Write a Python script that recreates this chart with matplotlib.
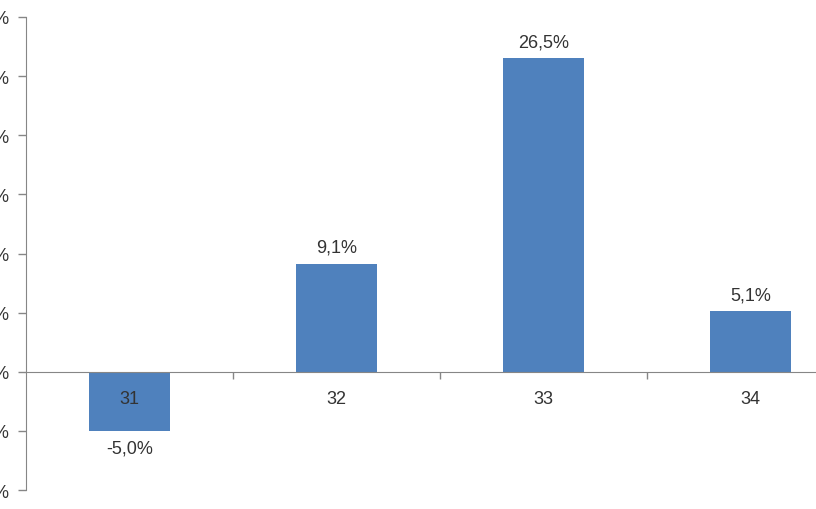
import numpy as np
import matplotlib
matplotlib.use("Agg")
import matplotlib.pyplot as plt

plt.rcParams['font.family'] = ['Liberation Sans', 'DejaVu Sans']

categories = ['31', '32', '33', '34']
values = [-5.0, 9.1, 26.5, 5.1]
yticks = [-10, -5, 0, 5, 10, 15, 20, 25, 30]

bar_color = '#4F81BD'
text_color = '#333333'
axis_color = '#868686'

fig = plt.figure(figsize=(8.16, 5.1), dpi=100)
# axes run a little past the right edge, as in the cropped original
ax = fig.add_axes([26 / 816, 19 / 510, 828 / 816, 473 / 510])

x = np.arange(len(categories))
ax.bar(x, values, width=0.39, color=bar_color, zorder=2)

ax.set_xlim(-0.5, len(categories) - 0.5)
ax.set_ylim(-10, 30)

for sp in ['top', 'right']:
    ax.spines[sp].set_visible(False)
ax.spines['left'].set_color(axis_color)
ax.spines['bottom'].set_color(axis_color)
ax.spines['bottom'].set_position(('data', 0))
ax.spines['bottom'].set_zorder(3)
ax.xaxis.set_zorder(4)

ax.set_yticks(yticks)
ax.set_yticklabels([f"{v}%" for v in yticks])
ax.tick_params(axis='y', colors=axis_color, length=6, width=1, pad=6,
               labelcolor=text_color, labelsize=13)

ax.set_xticks(x)
ax.set_xticklabels(categories)
ax.tick_params(axis='x', which='major', length=0, pad=13,
               labelcolor=text_color, labelsize=13)
ax.set_xticks(np.arange(0.5, len(categories) - 0.5), minor=True)
ax.tick_params(axis='x', which='minor', length=5, color=axis_color, width=1)

for xi, v in zip(x, values):
    s = f"{v:.1f}%".replace('.', ',')
    if v >= 0:
        ax.annotate(s, (xi, v), xytext=(0, 6), textcoords='offset points',
                    ha='center', va='bottom', color=text_color, fontsize=13)
    else:
        ax.annotate(s, (xi, v), xytext=(0, -6), textcoords='offset points',
                    ha='center', va='top', color=text_color, fontsize=13)

fig.savefig('out.png', dpi=100)
